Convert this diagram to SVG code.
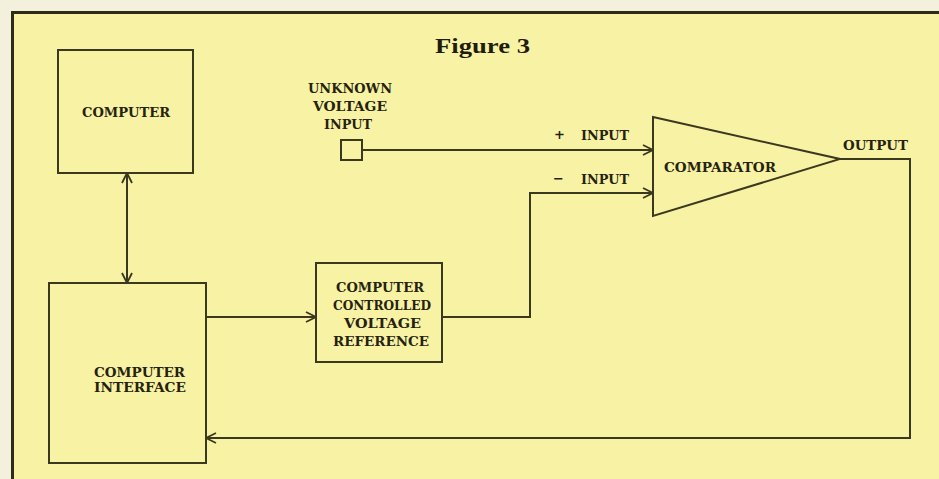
<svg xmlns="http://www.w3.org/2000/svg" width="939" height="479" viewBox="0 0 939 479">
  <defs>
    <marker id="arr" viewBox="0 0 12 12" refX="11" refY="6" markerWidth="12" markerHeight="12" markerUnits="userSpaceOnUse" orient="auto-start-reverse">
      <path d="M1,1 L11,6 L1,11" fill="none" stroke="#3b3820" stroke-width="1.8"/>
    </marker>
  </defs>
  <style>
    .box { fill: none; stroke: #3b3820; stroke-width: 2; }
    .wire { fill: none; stroke: #3b3820; stroke-width: 2; }
    .lbl { font-family: "DejaVu Serif", "Liberation Serif", serif; font-weight: bold; font-size: 13px; fill: #25220f; }
    .title { font-family: "Liberation Serif", serif; font-weight: bold; font-size: 21px; fill: #1f1d10; }
  </style>
  <rect x="0" y="0" width="939" height="479" fill="#f3f0dc"/>
  <rect x="13" y="13" width="930" height="470" fill="#f8f3a4"/>
  <path d="M12.5,479 L12.5,12.5 L939,12.5" fill="none" stroke="#2e2b16" stroke-width="3"/>

  <text class="title" x="435" y="53" textLength="95" lengthAdjust="spacingAndGlyphs">Figure 3</text>

  <g id="computer">
    <rect class="box" x="58" y="50" width="135" height="123"/>
    <text class="lbl" x="82" y="117" textLength="88" lengthAdjust="spacingAndGlyphs">COMPUTER</text>
  </g>

  <g id="interface">
    <rect class="box" x="49" y="283" width="157" height="180"/>
    <text class="lbl" x="94" y="377" textLength="91" lengthAdjust="spacingAndGlyphs">COMPUTER</text>
    <text class="lbl" x="94" y="392" textLength="92" lengthAdjust="spacingAndGlyphs">INTERFACE</text>
  </g>

  <g id="unknown-input">
    <text class="lbl" x="308" y="93" textLength="84" lengthAdjust="spacingAndGlyphs">UNKNOWN</text>
    <text class="lbl" x="313" y="111" textLength="74" lengthAdjust="spacingAndGlyphs">VOLTAGE</text>
    <text class="lbl" x="324" y="129" textLength="48" lengthAdjust="spacingAndGlyphs">INPUT</text>
    <rect class="box" x="341" y="140" width="21" height="20"/>
  </g>

  <g id="reference">
    <rect class="box" x="316" y="263" width="126" height="99"/>
    <text class="lbl" x="336" y="292" textLength="88" lengthAdjust="spacingAndGlyphs">COMPUTER</text>
    <text class="lbl" x="333" y="310" textLength="98" lengthAdjust="spacingAndGlyphs">CONTROLLED</text>
    <text class="lbl" x="344" y="328" textLength="77" lengthAdjust="spacingAndGlyphs">VOLTAGE</text>
    <text class="lbl" x="333" y="346" textLength="96" lengthAdjust="spacingAndGlyphs">REFERENCE</text>
  </g>

  <g id="comparator">
    <polygon class="box" points="653,117 840,159 653,216"/>
    <text class="lbl" x="664" y="172" textLength="112" lengthAdjust="spacingAndGlyphs">COMPARATOR</text>
  </g>

  <g id="connectors">
    <line class="wire" x1="127" y1="173" x2="127" y2="283" marker-start="url(#arr)" marker-end="url(#arr)"/>
    <line class="wire" x1="206" y1="317" x2="316" y2="317" marker-end="url(#arr)"/>
    <polyline class="wire" points="442,317 530,317 530,193 653,193" marker-end="url(#arr)"/>
    <line class="wire" x1="362" y1="150" x2="653" y2="150" marker-end="url(#arr)"/>
    <polyline class="wire" points="840,159 910,159 910,438 206,438" marker-end="url(#arr)"/>
  </g>

  <g id="labels">
    <text class="lbl" x="554" y="139">+</text>
    <text class="lbl" x="581" y="140" textLength="48" lengthAdjust="spacingAndGlyphs">INPUT</text>
    <text class="lbl" x="553" y="183">−</text>
    <text class="lbl" x="581" y="184" textLength="48" lengthAdjust="spacingAndGlyphs">INPUT</text>
    <text class="lbl" x="843" y="150" textLength="65" lengthAdjust="spacingAndGlyphs">OUTPUT</text>
  </g>
</svg>
